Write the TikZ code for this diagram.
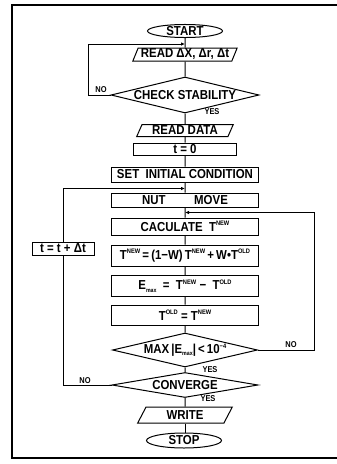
\documentclass[tikz,border=0pt]{standalone}
\usepackage{fontspec}
\setmainfont{Liberation Sans}[FakeStretch = 0.88]
\usetikzlibrary{shapes.geometric,arrows.meta}

\newcommand{\upidx}[1]{\raisebox{0.8ex}{\fontsize{6.5}{7}\selectfont #1}}
\newcommand{\dnidx}[1]{\raisebox{-0.35ex}{\fontsize{6}{7}\selectfont #1}}

\tikzset{
    flow/.style = {line width = 1pt},
    back/.style = {flow, -{Latex[length = 4pt, width = 3.5pt]}},
    txt/.style = {font = \bfseries\fontsize{13}{14}\selectfont, inner sep = 0pt},
    box/.style = {txt, draw, line width = 1pt, rectangle, minimum width = 147pt},
    io/.style = {txt, draw, line width = 1pt, trapezium, trapezium left angle = 65,
        trapezium right angle = 115, trapezium stretches = true, inner xsep = 1pt},
    term/.style = {txt, draw, line width = 1pt, ellipse},
    test/.style = {txt, draw, line width = 1pt, diamond},
    tag/.style = {font = \bfseries\fontsize{8.5}{9}\selectfont, inner sep = 0pt},
}

\begin{document}
\begin{tikzpicture}[x = 1pt, y = -1pt]
    \useasboundingbox (0, 0) rectangle (337, 464);
    \draw [line width = 1.2pt] (337, 5) -- (12, 5) -- (12, 458) -- (337, 458);

    \node [term, minimum width = 75pt, minimum height = 13pt] (start) at (185, 31) {\makebox[0pt]{START}};
    \node [io, minimum width = 105pt, minimum height = 13pt] (readdx) at (185, 54.5) {READ ΔX, Δr, Δt};
    \node [test, minimum width = 148pt, minimum height = 36pt] (chk) at (185, 95) {\makebox[0pt]{CHECK STABILITY}};
    \node [io, minimum width = 97pt, minimum height = 12pt] (readdata) at (185, 130.5) {READ DATA};
    \node [box, minimum width = 103pt, minimum height = 12pt] (tzero) at (185, 149) {t = 0};
    \node [box, minimum height = 15pt] (setic) at (185, 174.5) {SET\ \ INITIAL CONDITION};
    \node [box, minimum height = 14pt] (nut) at (185, 200) {NUT\hspace{2.2em}MOVE};
    \node [box, minimum height = 17pt] (calc) at (185, 226.5) {CACULATE\ \ T\upidx{NEW}};
    \node [box, minimum height = 21pt] (relax) at (185, 255.5)
        {T\upidx{NEW}\,=\,(1−W)\,T\upidx{NEW}\,+\,W•T\upidx{OLD}};
    \node [box, minimum height = 21pt] (err) at (185, 286)
        {E\dnidx{max}\ \ =\ \ T\upidx{NEW}\ −\ \ T\upidx{OLD}};
    \node [box, minimum height = 20pt] (swap) at (185, 315) {T\upidx{OLD}\ =\ T\upidx{NEW}};
    \node [test, minimum width = 145pt, minimum height = 34pt] (maxerr) at (185, 350)
        {\makebox[0pt]{MAX\,|E\dnidx{max}|\,<\,10\upidx{−4}}};
    \node [test, minimum width = 146pt, minimum height = 25pt] (conv) at (185, 385) {\makebox[0pt]{CONVERGE}};
    \node [io, minimum width = 95pt, minimum height = 16pt] (write) at (185, 415) {WRITE};
    \node [term, minimum width = 75pt, minimum height = 15pt] (stop) at (184, 440.5) {\makebox[0pt]{STOP}};
    \node [box, fill = white, minimum width = 62pt, minimum height = 13pt] (tstep) at (63, 248.5) {t = t + Δt};

    \draw [flow] (start) -- (readdx) -- (chk) -- (readdata) -- (tzero) -- (setic) -- (nut) -- (calc)
        -- (relax) -- (err) -- (swap) -- (maxerr) -- (conv) -- (write);
    \draw [flow] (write.south) -- (write.south |- stop.north);

    \coordinate (inread) at (185, 44);
    \coordinate (cornread) at (88, 44);
    \draw [back] (chk.west) -| (cornread) -- (inread);

    \coordinate (incalc) at (185, 212.5);
    \coordinate (corncalc) at (314, 212.5);
    \draw [back] (maxerr.east) -| (corncalc) -- (incalc);

    \coordinate (innut) at (185, 188.5);
    \draw [flow] (conv.west) -| (tstep.south);
    \draw [back] (tstep.north) |- (innut);

    \node [tag] (nochk) at (101, 90) {NO};
    \node [tag] (yeschk) at (212, 112) {YES};
    \node [tag] (nomax) at (291, 345) {NO};
    \node [tag] (yesmax) at (210, 370) {YES};
    \node [tag] (noconv) at (85, 381) {NO};
    \node [tag] (yesconv) at (208, 399) {YES};
\end{tikzpicture}
\end{document}
